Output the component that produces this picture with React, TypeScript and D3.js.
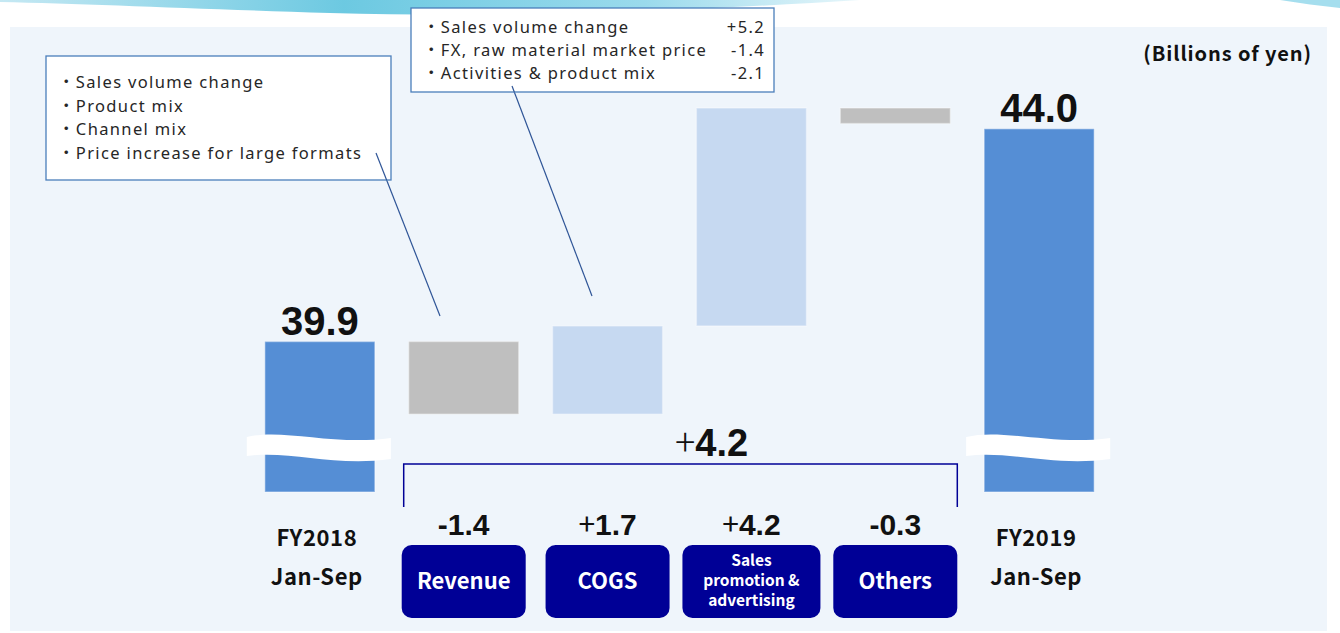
import React from "react";
import * as d3 from "d3";

const categories = ["FY2018 Jan-Sep", "Revenue", "COGS", "Sales promotion & advertising", "Others", "FY2019 Jan-Sep"];
const startValue = 39.9;
const deltas = [-1.4, 1.7, 4.2, -0.3];
const endValue = 44.0;
const deltaLabels = ["-1.4", "+1.7", "+4.2", "-0.3"];
const boxLabels = [["Revenue"], ["COGS"], ["Sales", "promotion &", "advertising"], ["Others"]];
const totalLabels = [["FY2018", "Jan-Sep"], ["FY2019", "Jan-Sep"]];
const totalDelta = "4.2";
const note1 = ["Sales volume change", "Product mix", "Channel mix", "Price increase for large formats"];
const note2 = [["Sales volume change", "+5.2"], ["FX, raw material market price", "-1.4"], ["Activities & product mix", "-2.1"]];
const axisMin = 37.0;
const axisMax = 44.4;

const W = 1340, H = 633;
const NAVY = "#000096";
const DARK = "#558ed5";
const LIGHT = "#c6d9f1";
const GRAY = "#bfbfbf";
const JP = "'Noto Sans CJK JP', 'Noto Sans', sans-serif";
const NOTE = "'Noto Sans', 'Noto Sans CJK JP', sans-serif";
const NUM = "'Liberation Sans', Arial, sans-serif";

export default function App() {
  const x = d3.scaleBand<string>().domain(categories).range([231, 1128]).paddingInner(0.235).paddingOuter(0.235);
  const y = d3.scaleLinear().domain([axisMin, axisMax]).range([492, 108]);
  const bw = x.bandwidth();

  let run = startValue;
  const steps = deltas.map((d, i) => {
    const from = run;
    run = run + d;
    return { cat: categories[i + 1], from, to: run, d, label: deltaLabels[i], box: boxLabels[i] };
  });

  const totals = [
    { cat: categories[0], v: startValue, labels: totalLabels[0] },
    { cat: categories[5], v: endValue, labels: totalLabels[1] },
  ];

  const breakPath = (cx: number) => {
    const x0 = cx - bw / 2 - 18, x1 = cx + bw / 2 + 16;
    const w = x1 - x0;
    const yt = y(axisMin) - 58;
    const yb = yt + 22;
    return `M${x0},${yt + 3} C${x0 + w * 0.25},${yt - 6} ${x0 + w * 0.6},${yt + 12} ${x1},${yt + 4} L${x1},${yb + 3} C${x0 + w * 0.6},${yb + 11} ${x0 + w * 0.3},${yb - 6} ${x0},${yb}Z`;
  };

  const boxW = (i: number) => (boxLabels[i].length > 1 ? 138 : 124);
  const firstStep = x(categories[1])! + bw / 2 - boxW(0) / 2;
  const lastStep = x(categories[4])! + bw / 2 + boxW(3) / 2;
  const bracketY = 464;

  return (
    <svg width={W} height={H} style={{ position: "absolute", left: 0, top: 0, background: "#fff" }}>
      <defs>
        <linearGradient id="swoosh" x1="0" x2="1" y1="0" y2="0">
          <stop offset="0" stopColor="#bfe6f2" />
          <stop offset="0.4" stopColor="#5cc3de" />
          <stop offset="0.75" stopColor="#8fd6ea" />
          <stop offset="1" stopColor="#e4f5fa" />
        </linearGradient>
      </defs>
      <path d="M0,0 L860,0 C700,10 520,18 330,13 C200,9 90,4 0,2 Z" fill="url(#swoosh)" opacity={0.9} />
      <path d="M1280,0 L1340,0 L1340,8 C1320,6 1300,3 1280,0 Z" fill="#8fd6ea" opacity={0.8} />
      <rect x={10} y={27} width={1317} height={604} fill="#eff5fb" />

      <text x={1312} y={61} textAnchor="end" fontFamily={JP} fontWeight={700} fontSize={20} letterSpacing={0.9} fill="#111">(Billions of yen)</text>

      {totals.map((t) => {
        const cx = x(t.cat)! + bw / 2;
        return (
          <g key={t.cat}>
            <rect x={x(t.cat)} y={y(t.v)} width={bw} height={y(axisMin) - y(t.v)} fill={DARK} stroke="#ffffff" strokeOpacity={0.35} strokeWidth={1.5} />
            <path d={breakPath(cx)} fill="#ffffff" />
            <text x={cx} y={y(t.v) - 7} textAnchor="middle" fontFamily={NUM} fontWeight={700} fontSize={40} fill="#111">{t.v.toFixed(1)}</text>
            {t.labels.map((l, j) => (
              <text key={j} x={cx - 3} y={546 + j * 39} textAnchor="middle" fontFamily={JP} fontWeight={700} fontSize={22} letterSpacing={0.6} fill="#111">{l}</text>
            ))}
          </g>
        );
      })}

      {steps.map((s, i) => {
        const cx = x(s.cat)! + bw / 2;
        const top = y(Math.max(s.from, s.to));
        const bot = y(Math.min(s.from, s.to));
        const bwid = boxW(i);
        const multi = s.box.length > 1;
        return (
          <g key={s.cat}>
            <rect x={x(s.cat)} y={top} width={bw} height={bot - top} fill={s.d < 0 ? GRAY : LIGHT} stroke="#ffffff" strokeOpacity={0.35} strokeWidth={1.5} />
            <text x={cx} y={535} textAnchor="middle" fontFamily={NUM} fontWeight={700} fontSize={30} fill="#111">
              {s.label.startsWith("+") ? (
                <>
                  <tspan fontWeight={400} fontFamily={JP}>+</tspan>
                  <tspan>{s.label.slice(1)}</tspan>
                </>
              ) : s.label}
            </text>
            <rect x={cx - bwid / 2} y={545} width={bwid} height={73} rx={10} fill={NAVY} />
            {s.box.map((l, j) => (
              <text key={j} x={cx} y={multi ? 566 + j * 20 : 589} textAnchor="middle" fontFamily={JP} fontWeight={700} fontSize={multi ? 15.5 : 22} fill="#fff">{l}</text>
            ))}
          </g>
        );
      })}

      <path d={`M${firstStep + 2},507 L${firstStep + 2},${bracketY} L${lastStep},${bracketY} L${lastStep},507`} fill="none" stroke={NAVY} strokeWidth={1.5} />
      <text x={(firstStep + lastStep) / 2 + 32} y={456} textAnchor="middle" fontFamily={NUM} fontWeight={700} fontSize={38} fill="#111">
        <tspan fontWeight={300} fontFamily={JP}>+</tspan>
        <tspan>{totalDelta}</tspan>
      </text>

      <line x1={376} y1={153} x2={440} y2={316} stroke="#2f5597" strokeWidth={1.2} />
      <rect x={46} y={56} width={345} height={124} fill="#fff" stroke="#4a7ebb" strokeWidth={1.3} />
      <line x1={376} y1={153} x2={386.6} y2={180} stroke="#2f5597" strokeWidth={1.2} />
      {note1.map((t, j) => (
        <text key={j} x={58} y={88 + j * 23.5} fontFamily={NOTE} fontSize={16.5} letterSpacing={1.35} fill="#262626">{"・" + t}</text>
      ))}

      <line x1={512} y1={86} x2={592} y2={296} stroke="#2f5597" strokeWidth={1.2} />
      <rect x={411} y={8} width={363} height={84} fill="#fff" stroke="#4a7ebb" strokeWidth={1.3} />
      <line x1={512} y1={86} x2={514.3} y2={92} stroke="#2f5597" strokeWidth={1.2} />
      {note2.map((t, j) => (
        <g key={j}>
          <text x={423} y={33 + j * 23} fontFamily={NOTE} fontSize={16.5} letterSpacing={1.35} fill="#262626">{"・" + t[0]}</text>
          <text x={765} y={33 + j * 23} textAnchor="end" fontFamily={NOTE} fontSize={16.5} letterSpacing={1.35} fill="#262626">{t[1]}</text>
        </g>
      ))}
    </svg>
  );
}
